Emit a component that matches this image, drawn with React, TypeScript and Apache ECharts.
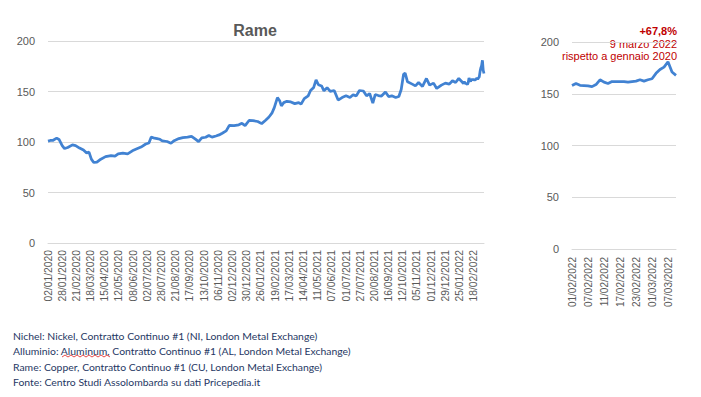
import React, { useEffect, useRef } from "react";
import * as echarts from "echarts";

// UK / LME holidays (no trading)
const holidays = [
  "2020-01-01", "2020-04-10", "2020-04-13", "2020-05-08", "2020-05-25", "2020-08-31",
  "2020-12-25", "2020-12-28", "2021-01-01", "2021-04-02", "2021-04-05", "2021-05-03",
  "2021-05-31", "2021-08-30", "2021-12-27", "2021-12-28", "2022-01-03",
];
const firstDay = "2020-01-02";
const lastDay = "2022-03-09";

// Tick labels shown on the main axis
const mainTickLabels = [
  "02/01/2020", "28/01/2020", "21/02/2020", "18/03/2020", "15/04/2020", "12/05/2020",
  "08/06/2020", "02/07/2020", "28/07/2020", "21/08/2020", "17/09/2020", "13/10/2020",
  "06/11/2020", "02/12/2020", "30/12/2020", "26/01/2021", "19/02/2021", "17/03/2021",
  "14/04/2021", "11/05/2021", "07/06/2021", "01/07/2021", "27/07/2021", "20/08/2021",
  "16/09/2021", "12/10/2021", "05/11/2021", "01/12/2021", "29/12/2021", "25/01/2022",
  "18/02/2022",
];
const zoomTickLabels = [
  "01/02/2022", "07/02/2022", "11/02/2022", "17/02/2022", "23/02/2022", "01/03/2022", "07/03/2022",
];

// Copper index (Jan 2020 = 100): [trading-day index, value]
const mainPoints: [number, number][] = [
  [0, 100.8], [3, 101.5], [6, 101.5], [11, 103.8], [14, 102.5], [18, 96.5], [21, 93.5],
  [25, 94.6], [31, 97.2], [35, 96.5], [40, 94], [45, 92], [49, 89], [52, 90], [55, 83],
  [58, 79.7], [62, 80], [67, 83], [73, 85.5], [80, 86.5], [85, 86], [89, 88.3], [95, 89],
  [101, 88.3], [107, 91.3], [112, 93], [118, 95], [124, 98], [128, 99], [131, 105],
  [135, 103.8], [140, 103], [142, 102.7], [145, 101], [151, 100.5], [156, 98.8],
  [160, 101.3], [166, 103.4], [171, 104.4], [177, 104.8], [182, 105.6], [187, 102.8],
  [191, 100.3], [195, 104], [200, 104.7], [204, 106.5], [208, 104.8], [213, 106],
  [217, 107], [221, 108.7], [226, 111], [230, 116.5], [236, 116.3], [242, 117],
  [246, 118.5], [250, 116.2], [255, 121.3], [260, 121.2], [266, 120.3], [271, 118.2],
  [276, 121.5], [280, 124.5], [284, 128.5], [287, 134], [291, 144], [294, 140.5],
  [296, 135.7], [299, 139], [303, 140.3], [308, 139.7], [313, 138], [318, 139],
  [321, 137.5], [325, 143], [330, 145.7], [333, 151], [337, 154], [340, 161.5],
  [343, 156.7], [347, 155.5], [350, 150.7], [354, 153.8], [358, 150.2], [363, 151],
  [368, 141.5], [373, 144], [378, 145.7], [383, 144], [387, 146.7], [391, 145.7],
  [395, 151], [400, 150.5], [404, 145.7], [408, 148], [412, 138.5], [415, 147],
  [419, 146], [423, 145.5], [428, 149.5], [432, 145], [436, 145.7], [441, 144],
  [445, 145], [448, 152], [451, 167], [453, 168.2], [456, 159.6], [462, 157.3],
  [466, 155.6], [470, 158.9], [475, 155], [480, 162.9], [484, 156.3], [489, 158.3],
  [493, 153], [499, 156.3], [504, 158.3], [509, 157.3], [513, 160.6], [517, 158.9],
  [521, 162.9], [525, 159.6],
];

// Last 27 trading days (01/02/2022 – 09/03/2022), every day
const zoomValues = [
  157.9, 159.9, 158.2, 157.9, 157.6, 156.9, 158.9, 163.5, 161.2, 159.9, 161.8, 161.8,
  161.8, 161.8, 161.2, 161.8, 162.2, 163.5, 162.2, 163.5, 164.5, 169.7, 173.4, 175.7,
  180.9, 171, 167.8,
];

const footnotes = [
  "Nichel: Nickel, Contratto Continuo #1 (NI, London Metal Exchange)",
  "Alluminio: Aluminum, Contratto Continuo #1 (AL, London Metal Exchange)",
  "Rame: Copper, Contratto Continuo #1 (CU, London Metal Exchange)",
  "Fonte: Centro Studi Assolombarda su dati Pricepedia.it",
];

function buildDates(): string[] {
  const out: string[] = [];
  const hol = new Set(holidays);
  const d = new Date(firstDay + "T00:00:00Z");
  const end = new Date(lastDay + "T00:00:00Z");
  while (d.getTime() <= end.getTime()) {
    const wd = d.getUTCDay();
    const iso = d.toISOString().slice(0, 10);
    if (wd !== 0 && wd !== 6 && !hol.has(iso)) {
      out.push(`${iso.slice(8, 10)}/${iso.slice(5, 7)}/${iso.slice(0, 4)}`);
    }
    d.setUTCDate(d.getUTCDate() + 1);
  }
  return out;
}

export default function App() {
  const ref = useRef<HTMLDivElement>(null);
  useEffect(() => {
    if (!ref.current) return;
    const chart = echarts.init(ref.current, undefined, { renderer: "svg" });
    const dates = buildDates();
    const zoomStart = dates.length - zoomValues.length;
    const zoomDates = dates.slice(zoomStart);
    const mainData = [
      ...mainPoints.filter((p) => p[0] < zoomStart),
      ...zoomValues.map((v, i) => [zoomStart + i, v]),
    ];
    const mainSet = new Set(mainTickLabels);
    const zoomSet = new Set(zoomTickLabels);
    const txt = "#595959";
    const grid = "#D9D9D9";
    const lineColor = "#4182D2";
    const font = "Liberation Sans, Arial, sans-serif";

    const yAxisBase = (gi: number) => ({
      type: "value",
      gridIndex: gi,
      min: 0,
      max: 200,
      interval: 50,
      axisLine: { show: false },
      axisTick: { show: false },
      axisLabel: { color: txt, fontSize: 11, fontFamily: font, margin: 13 },
      splitLine: { lineStyle: { color: grid, width: 1 } },
    });

    chart.setOption({
      animation: false,
      grid: [
        { left: 48, top: 41, width: 436, height: 202 },
        { left: 572, top: 42, width: 104, height: 207 },
      ],
      xAxis: [
        {
          type: "category",
          gridIndex: 0,
          data: dates,
          boundaryGap: false,
          axisLine: { lineStyle: { color: grid } },
          axisTick: { show: false },
          axisLabel: {
            rotate: 90,
            interval: (_i: number, v: string) => mainSet.has(v),
            color: txt,
            fontSize: 10.3,
            fontFamily: font,
            margin: 7,
          },
        },
        {
          type: "category",
          gridIndex: 1,
          data: zoomDates,
          boundaryGap: false,
          axisLine: { lineStyle: { color: grid } },
          axisTick: { show: false },
          axisLabel: {
            rotate: 90,
            interval: (_i: number, v: string) => zoomSet.has(v),
            color: txt,
            fontSize: 10,
            fontFamily: font,
            margin: 8,
          },
        },
      ],
      yAxis: [yAxisBase(0), yAxisBase(1)],
      series: [
        {
          type: "line",
          xAxisIndex: 0,
          yAxisIndex: 0,
          data: mainData,
          showSymbol: false,
          symbol: "none",
          lineStyle: { color: lineColor, width: 2.75 },
        },
        {
          type: "line",
          xAxisIndex: 1,
          yAxisIndex: 1,
          data: zoomValues,
          showSymbol: false,
          symbol: "none",
          lineStyle: { color: lineColor, width: 2.75 },
        },
      ],
      graphic: [
        {
          type: "text",
          x: 255,
          y: 30,
          style: {
            text: "Rame",
            fill: txt,
            font: `bold 16px ${font}`,
            textAlign: "center",
            textVerticalAlign: "middle",
          },
        },
        {
          type: "text",
          x: 677,
          y: 31,
          style: {
            text: "+67,8%",
            fill: "#C00000",
            font: `bold 11px ${font}`,
            textAlign: "right",
            textVerticalAlign: "middle",
          },
        },
        {
          type: "text",
          x: 677,
          y: 43.5,
          style: {
            text: "9 marzo 2022",
            fill: "#C00000",
            font: `11px ${font}`,
            textAlign: "right",
            textVerticalAlign: "middle",
          },
        },
        {
          type: "text",
          x: 677,
          y: 55.5,
          style: {
            text: "rispetto a gennaio 2020",
            fill: "#C00000",
            font: `11px ${font}`,
            textAlign: "right",
            textVerticalAlign: "middle",
          },
        },
        ...footnotes.map((t, i) => ({
          type: "text",
          x: 13,
          y: 336 + i * 15.3,
          style: {
            text: t,
            fill: "#1F3864",
            font: `10.4px Lato, sans-serif`,
            textAlign: "left",
            textVerticalAlign: "middle",
          },
        })),
        {
          type: "polyline",
          shape: {
            points: Array.from({ length: 17 }, (_, k) => [62 + k * 3, k % 2 === 0 ? 357 : 355]),
          },
          style: { stroke: "#E02020", lineWidth: 0.8, fill: "none" },
        },
      ],
    });
    return () => chart.dispose();
  }, []);
  return (
    <div
      ref={ref}
      style={{ position: "fixed", left: 0, top: 0, width: 701, height: 397, background: "#fff" }}
    />
  );
}
